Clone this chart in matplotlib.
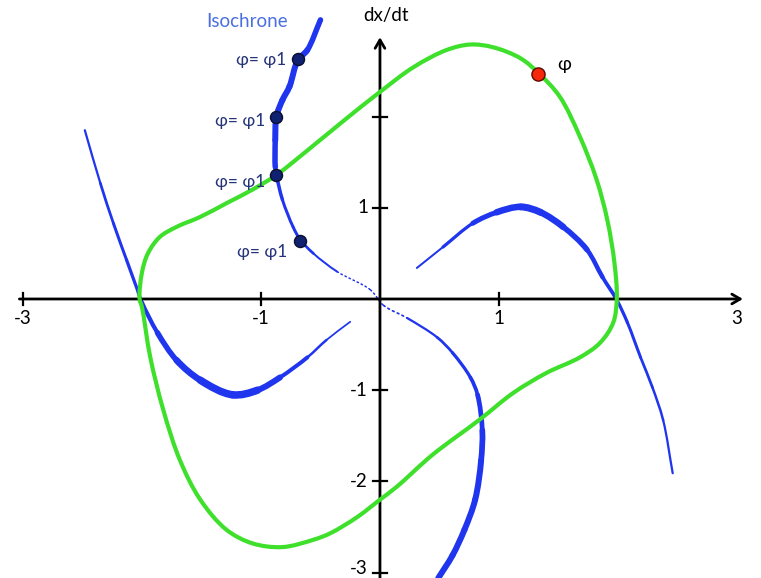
import numpy as np
import matplotlib
matplotlib.use("Agg")
import matplotlib.pyplot as plt
from matplotlib.path import Path
from matplotlib.patches import PathPatch

plt.rcParams['font.family'] = ['Lato', 'DejaVu Sans']

# limit cycle (green), traced clockwise from the left x-axis crossing
cycle_x = [-2.02, -2.00, -1.95, -1.85, -1.71, -1.51, -1.29, -1.07, -0.87, -0.59, -0.29, 0.00,
           0.28, 0.56, 0.76, 0.95, 1.18, 1.33, 1.51, 1.68, 1.82, 1.91, 1.97, 1.99, 1.96, 1.85,
           1.68, 1.40, 1.12, 0.84, 0.44, 0.14, 0.00, -0.19, -0.42, -0.56, -0.82, -1.07, -1.29,
           -1.51, -1.68, -1.82, -1.93, -2.00]
cycle_y = [0.00, 0.29, 0.50, 0.68, 0.79, 0.90, 1.05, 1.20, 1.36, 1.65, 1.97, 2.27,
           2.54, 2.73, 2.79, 2.76, 2.64, 2.48, 2.22, 1.78, 1.31, 0.87, 0.40, 0.00, -0.26, -0.48,
           -0.64, -0.81, -1.03, -1.32, -1.71, -2.06, -2.20, -2.39, -2.57, -2.64, -2.72, -2.68, -2.53,
           -2.20, -1.77, -1.22, -0.64, -0.09]

# isochrones (blue); w = stroke width in px along the curve
iso1_x = [-0.50, -0.61, -0.69, -0.76, -0.82, -0.87, -0.88, -0.88, -0.87, -0.82, -0.73, -0.67,
          -0.56, -0.36, -0.08, 0.03, 0.23, 0.48, 0.61, 0.76, 0.82, 0.86, 0.85, 0.80, 0.71, 0.61, 0.49]
iso1_y = [3.06, 2.73, 2.62, 2.33, 2.18, 2.00, 1.74, 1.45, 1.36, 1.09, 0.79, 0.65,
          0.50, 0.30, 0.10, -0.07, -0.21, -0.42, -0.59, -0.86, -1.05, -1.44, -1.77, -2.20, -2.53, -2.81, -3.06]
iso1_w = [5, 6, 6, 6, 6, 6, 6, 5, 4, 3, 3, 3, 2.5, 1.5, 1.5, 1.5, 2, 2.5, 3, 3.5, 4, 5.5, 6, 6, 6, 6, 6]

iso2_x = [-2.48, -2.35, -2.24, -2.13, -2.03, -2.00, -1.87, -1.71, -1.51, -1.24, -1.03, -0.84,
          -0.61, -0.45, -0.25]
iso2_y = [1.85, 1.27, 0.83, 0.43, 0.07, -0.04, -0.37, -0.67, -0.89, -1.05, -1.00, -0.86,
          -0.64, -0.45, -0.25]
iso2_w = [2, 2.5, 3, 3, 3.5, 3.5, 5, 6, 7, 8, 7, 5, 3, 2, 1.5]

iso3_x = [0.31, 0.53, 0.78, 0.98, 1.18, 1.35, 1.54, 1.74, 1.87, 1.99, 2.08, 2.19, 2.29, 2.38, 2.46]
iso3_y = [0.34, 0.57, 0.83, 0.95, 1.01, 0.95, 0.79, 0.54, 0.24, -0.01, -0.26, -0.64, -0.97, -1.33, -1.91]
iso3_w = [1.5, 2.5, 4, 6, 7, 7, 6, 5, 4, 3.5, 3, 3, 2.5, 2.5, 2]

# marked phase points
iso_pts_x = [-0.69, -0.87, -0.87, -0.67]
iso_pts_y = [2.63, 2.00, 1.36, 0.64]
iso_label = "φ= φ1"
phase_x, phase_y = 1.33, 2.47

x_ticks = [-3, -1, 1]
x_ticklabels = ['-3', '-1', '1']
y_ticks = [2, 1, -1, -2, -3]
y_ticklabels = ['', '1', '-1', '-2', '-3']

BLUE = '#1f35ee'
GREEN = '#3fe02c'
NAVY = '#25337a'
PX = 0.72  # points per pixel at dpi 100
SX, SY = 119.0, 91.2  # px per data unit, used for curve smoothing

fig = plt.figure(figsize=(7.61, 5.78), dpi=100)
ax = fig.add_axes([0, 0, 1, 1])
ax.set_xlim(-3.193, 3.202)
ax.set_ylim(-3.059, 3.278)
ax.axis('off')

# axes with arrows
arrow = dict(arrowstyle='->,head_length=0.6,head_width=0.35', lw=2.0, color='k', shrinkA=0, shrinkB=0)
ax.annotate('', xy=(3.05, 0), xytext=(-3.03, 0), arrowprops=arrow)
ax.annotate('', xy=(0, 2.87), xytext=(0, -3.1), arrowprops=arrow)
for t, lab in zip(x_ticks, x_ticklabels):
    ax.plot([t, t], [-0.07, 0.07], color='k', lw=1.6)
    ax.text(t, -0.12, lab, ha='center', va='top', fontsize=13.5)
ax.text(3.0, -0.12, '3', ha='center', va='top', fontsize=13.5)
for t, lab in zip(y_ticks, y_ticklabels):
    ax.plot([-0.06, 0.06], [t, t], color='k', lw=1.6)
    ax.text(-0.10, max(t, -2.96), lab, ha='right', va='center', fontsize=13.5)
ax.text(0.05, 3.11, 'dx/dt', ha='center', va='center', fontsize=13.5)


def bezier_segments(xs, ys, closed=False):
    # centripetal Catmull-Rom through the traced points, as cubic Bezier pieces
    P = np.column_stack([np.array(xs) * SX, np.array(ys) * SY])
    n = len(P)
    if closed:
        get = lambda i: P[i % n]
        count = n
    else:
        ext = np.vstack([2 * P[0] - P[1], P, 2 * P[-1] - P[-2]])
        get = lambda i: ext[i + 1]
        count = n - 1
    out = []
    for i in range(count):
        p0, p1, p2, p3 = get(i - 1), get(i), get(i + 1), get(i + 2)
        d1 = max(np.linalg.norm(p1 - p0), 1e-6) ** 0.5
        d2 = max(np.linalg.norm(p2 - p1), 1e-6) ** 0.5
        d3 = max(np.linalg.norm(p3 - p2), 1e-6) ** 0.5
        b1 = (d1 ** 2 * p2 - d2 ** 2 * p0 + (2 * d1 ** 2 + 3 * d1 * d2 + d2 ** 2) * p1) / (3 * d1 * (d1 + d2))
        b2 = (d3 ** 2 * p1 - d2 ** 2 * p3 + (2 * d3 ** 2 + 3 * d3 * d2 + d2 ** 2) * p2) / (3 * d3 * (d3 + d2))
        seg = np.array([p1, b1, b2, p2]) / [SX, SY]
        out.append(seg)
    return out


def iso_curve(xs, ys, ws, dotted=()):
    for i, seg in enumerate(bezier_segments(xs, ys)):
        path = Path(seg, [Path.MOVETO, Path.CURVE4, Path.CURVE4, Path.CURVE4])
        ls = (0, (1, 2)) if i in dotted else 'solid'
        patch = PathPatch(path, fill=False, edgecolor=BLUE, lw=(ws[i] + ws[i + 1]) / 2 * PX,
                          linestyle=ls, capstyle='round', zorder=2)
        ax.add_patch(patch)


iso_curve(iso1_x, iso1_y, iso1_w, dotted=(13, 14, 15))
iso_curve(iso2_x, iso2_y, iso2_w)
iso_curve(iso3_x, iso3_y, iso3_w)

# green limit cycle
segs = bezier_segments(cycle_x, cycle_y, closed=True)
verts = [segs[0][0]]
codes = [Path.MOVETO]
for s in segs:
    verts += list(s[1:])
    codes += [Path.CURVE4] * 3
ax.add_patch(PathPatch(Path(verts, codes), fill=False, edgecolor=GREEN, lw=3.0,
                       joinstyle='round', zorder=3))

# points on the isochrone
ax.scatter(iso_pts_x, iso_pts_y, s=75, color='#0f2170', edgecolor='#0a0f30', lw=1, zorder=5)
offsets = [(-8, -1), (-8, -3), (-8, -5), (-9, -8)]
for x, y, off in zip(iso_pts_x, iso_pts_y, offsets):
    ax.annotate(iso_label, (x, y), xytext=off, textcoords='offset points',
                ha='right', va='center', fontsize=12.5, color=NAVY)
ax.scatter([phase_x], [phase_y], s=90, color='#f5280c', edgecolor='#5a0a00', lw=1, zorder=5)
ax.text(phase_x + 0.16, phase_y + 0.10, 'φ', ha='left', va='center', fontsize=13.5)

ax.text(-1.46, 3.04, 'Isochrone', ha='left', va='center', fontsize=13.5, color='#4a6fe0')

fig.savefig('out.png', dpi=100)
